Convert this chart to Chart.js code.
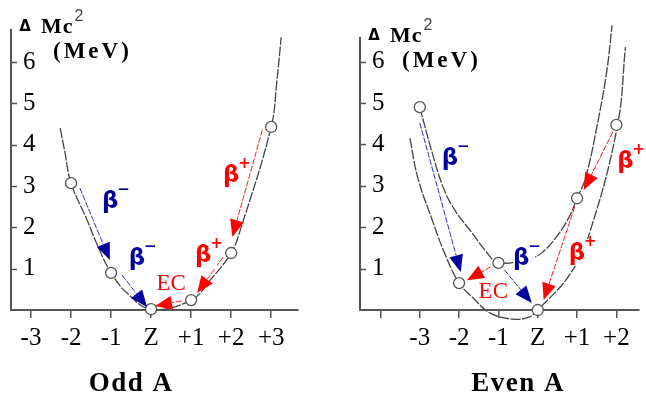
<!DOCTYPE html>
<html>
<head>
<meta charset="utf-8">
<script src="https://cdn.jsdelivr.net/npm/chart.js@4.4.1/dist/chart.umd.min.js"></script>
<style>
  body { margin: 0; background: #fff; }
  #wrap { display: flex; width: 646px; height: 396px; }
  canvas { display: block; }
</style>
</head>
<body>
<div id="wrap">
  <canvas id="oddChart" width="323" height="396"></canvas>
  <canvas id="evenChart" width="323" height="396"></canvas>
</div>
<script>
// tick labels
var yTickValues = [1, 2, 3, 4, 5, 6];
var oddTickValues = [-3, -2, -1, 0, 1, 2, 3];
var oddTickLabels = ['-3', '-2', '-1', 'Z', '+1', '+2', '+3'];
var evenTickValues = [-4, -3, -2, -1, 0, 1, 2];
var evenTickLabels = ['', '-3', '-2', '-1', 'Z', '+1', '+2'];

// Odd A: nuclides on one parabola
var oddNuclideX = [-2, -1, 0, 1, 2, 3];
var oddNuclideY = [3.07, 0.9, 0.02, 0.24, 1.38, 4.43];
var oddCurveX = [-2.27, -2.15, -2, -1.6, -1.32, -1, -0.6, 0, 1, 1.48, 2, 2.23, 3, 3.14, 3.25];
var oddCurveY = [4.4, 3.8, 3.07, 2.18, 1.52, 0.9, 0.41, 0.02, 0.24, 0.73, 1.38, 1.94, 4.43, 5.52, 6.6];
var oddArrowFrom = [[-1.78, 2.95], [-0.73, 0.85], [0.77, 0.22], [2.78, 4.36], [1.8, 1.28]];
var oddArrowTo = [[-1.03, 1.21], [-0.1, 0.07], [0.1, 0.1], [2.03, 1.77], [1.15, 0.41]];
var oddArrowKind = ['minus', 'minus', 'ec', 'plus', 'plus'];
var oddLabelAt = [[-0.97, 2.66], [-0.3, 1.28], [0.5, 0.65], [2.05, 3.29], [1.35, 1.35]];

// Even A: odd-odd (upper) and even-even (lower) parabolas
var evenNuclideX = [-3, -2, -1, 0, 1, 2];
var evenNuclideY = [4.9, 0.65, 1.14, 0, 2.7, 4.47];
var evenUpperX = [-3, -2.7, -2.4, -2.1, -1.7, -1.32, -1, -0.15, 0.1, 0.47, 0.8, 1, 1.22, 1.54, 1.76, 1.89];
var evenUpperY = [4.9, 3.85, 2.95, 2.4, 1.9, 1.42, 1.14, 1.26, 1.38, 1.76, 2.25, 2.7, 3.2, 4.6, 5.8, 6.88];
var evenLowerX = [-3.25, -3.05, -2.7, -2.38, -2, -1.64, -1.22, -0.65, -0.22, 0, 0.84, 1.34, 2.03, 2.23];
var evenLowerY = [4.15, 3.19, 2.22, 1.4, 0.65, 0.29, -0.07, -0.22, -0.17, 0, 0.89, 1.93, 4.47, 6.35];
var evenArrowFrom = [[-3.0, 4.52], [-0.85, 0.97], [-1.2, 1.04], [1.91, 4.3], [0.94, 2.49]];
var evenArrowTo = [[-1.96, 0.92], [-0.15, 0.17], [-1.8, 0.72], [1.17, 2.9], [0.15, 0.24]];
var evenArrowKind = ['minus', 'minus', 'ec', 'plus', 'plus'];
var evenLabelAt = [[-2.18, 3.7], [-0.37, 1.28], [-1.13, 0.47], [2.28, 3.62], [1.05, 1.4]];

var axisColor = '#555';
var curveColor = '#444';
var blue = '#00009c';
var red = '#ff0000';

function toXY(xs, ys) {
  var out = [];
  for (var i = 0; i < xs.length; i++) out.push({x: xs[i], y: ys[i]});
  return out;
}

function drawArrow(ctx, x1, y1, x2, y2, color, shaft) {
  var ang = Math.atan2(y2 - y1, x2 - x1);
  var len = 17, half = 7;
  var bx = x2 - len * Math.cos(ang), by = y2 - len * Math.sin(ang);
  ctx.strokeStyle = shaft;
  ctx.lineWidth = 1;
  ctx.setLineDash([6, 1.5]);
  ctx.beginPath();
  ctx.moveTo(x1, y1);
  ctx.lineTo(bx, by);
  ctx.stroke();
  ctx.setLineDash([]);
  ctx.fillStyle = color;
  ctx.beginPath();
  ctx.moveTo(x2, y2);
  ctx.lineTo(bx + half * Math.sin(ang), by - half * Math.cos(ang));
  ctx.lineTo(bx - half * Math.sin(ang), by + half * Math.cos(ang));
  ctx.closePath();
  ctx.fill();
}

function drawLabel(ctx, kind, px, py) {
  ctx.textBaseline = 'middle';
  if (kind === 'ec') {
    ctx.font = '23px "Liberation Serif"';
    ctx.textAlign = 'center';
    var w = ctx.measureText('EC').width;
    ctx.fillStyle = '#fff';
    ctx.fillRect(px - w / 2 - 1, py - 9, w + 2, 18);
    ctx.fillStyle = red;
    ctx.fillText('EC', px, py + 1);
    return;
  }
  var color = kind === 'minus' ? blue : red;
  ctx.fillStyle = '#fff';
  ctx.fillRect(px - 10, py - 13, 22, 27);
  ctx.fillStyle = color;
  ctx.font = 'bold 23px "DejaVu Sans"';
  ctx.textAlign = 'center';
  ctx.fillText('β', px - 2, py + 2);
  ctx.font = 'bold 15px "DejaVu Sans"';
  ctx.textAlign = 'left';
  ctx.fillText(kind === 'minus' ? '−' : '+', px + 5, py - 10);
}

function makePlugin(setup) {
  return {
    id: 'decayMarks',
    afterDraw: function (chart) {
      var ctx = chart.ctx, xs = chart.scales.x, ys = chart.scales.y, a = chart.chartArea;
      ctx.save();
      // y axis with inward ticks
      ctx.strokeStyle = axisColor;
      ctx.lineWidth = 2;
      ctx.beginPath();
      ctx.moveTo(a.left, ys.getPixelForValue(0));
      ctx.lineTo(a.left, a.top);
      ctx.stroke();
      ctx.lineWidth = 1.5;
      ctx.beginPath();
      for (var i = 0; i < yTickValues.length; i++) {
        var py = Math.round(ys.getPixelForValue(yTickValues[i])) + 0.5;
        ctx.moveTo(a.left, py);
        ctx.lineTo(a.left + 6, py);
      }
      ctx.stroke();

      // decay arrows and their labels
      for (var j = 0; j < setup.from.length; j++) {
        var k = setup.kind[j];
        var col = k === 'minus' ? blue : red;
        var shaft = k === 'minus' ? '#3030c8' : '#ff2020';
        drawArrow(ctx,
          xs.getPixelForValue(setup.from[j][0]), ys.getPixelForValue(setup.from[j][1]),
          xs.getPixelForValue(setup.to[j][0]), ys.getPixelForValue(setup.to[j][1]), col, shaft);
      }
      for (var m = 0; m < setup.labelAt.length; m++) {
        drawLabel(ctx, setup.kind[m], xs.getPixelForValue(setup.labelAt[m][0]), ys.getPixelForValue(setup.labelAt[m][1]));
      }

      // axis caption
      var hx = a.left, hy = a.top;
      ctx.fillStyle = '#000';
      ctx.textBaseline = 'alphabetic';
      ctx.textAlign = 'center';
      ctx.font = 'bold 15px "DejaVu Sans"';
      ctx.fillText('Δ', hx + 14, hy + setup.capDy - 2);
      ctx.textAlign = 'left';
      ctx.font = 'bold 22px "Liberation Serif"';
      ctx.letterSpacing = '1px';
      var mcW = ctx.measureText('Mc').width;
      ctx.fillText('Mc', hx + 30, hy + setup.capDy);
      ctx.letterSpacing = '0px';
      ctx.font = '16px "Liberation Sans"';
      ctx.fillStyle = '#444';
      ctx.fillText('2', hx + 31 + mcW, hy + setup.capDy - 12);
      ctx.fillStyle = '#000';
      ctx.font = 'bold 23px "Liberation Serif"';
      ctx.letterSpacing = '3px';
      ctx.fillText('(MeV)', hx + 42, hy + setup.capDy + 25);

      // panel title
      ctx.font = 'bold 27px "Liberation Serif"';
      ctx.letterSpacing = '1.5px';
      ctx.textAlign = 'center';
      ctx.textBaseline = 'middle';
      ctx.fillText(setup.title, xs.getPixelForValue(-0.5), 384);
      ctx.restore();
    }
  };
}

function makeChart(id, setup) {
  var datasets = [{
    type: 'scatter',
    data: toXY(setup.nucX, setup.nucY),
    pointRadius: 5.5,
    pointBackgroundColor: '#fff',
    pointBorderColor: axisColor,
    pointBorderWidth: 1.3,
    clip: false
  }];
  for (var i = 0; i < setup.curves.length; i++) {
    datasets.push({
      type: 'line',
      data: toXY(setup.curves[i][0], setup.curves[i][1]),
      borderColor: curveColor,
      borderWidth: 1.3,
      borderDash: [10, 1.5],
      pointRadius: 0,
      tension: 0.4,
      fill: false,
      clip: false
    });
  }
  return new Chart(document.getElementById(id), {
    type: 'scatter',
    data: {datasets: datasets},
    options: {
      responsive: false,
      animation: false,
      events: [],
      layout: {padding: setup.padding},
      plugins: {legend: {display: false}, tooltip: {enabled: false}},
      scales: {
        x: {
          type: 'linear',
          min: setup.xMin,
          max: setup.xMax,
          position: {y: 0},
          border: {display: true, color: axisColor, width: 2},
          grid: {drawOnChartArea: false, drawTicks: true, tickLength: 7, color: axisColor, lineWidth: 1.5},
          ticks: {
            stepSize: 1,
            includeBounds: false,
            autoSkip: false,
            maxRotation: 0,
            padding: 6,
            color: '#000',
            font: {family: 'Liberation Serif', size: 25},
            callback: function (v) {
              var i = setup.tickValues.indexOf(v);
              return i < 0 ? '' : setup.tickLabels[i];
            }
          }
        },
        y: {
          type: 'linear',
          min: -0.5,
          max: setup.yMax,
          position: 'left',
          border: {display: false},
          grid: {display: false},
          afterFit: function (s) { s.width = 0; },
          ticks: {
            mirror: true,
            padding: 12,
            stepSize: 1,
            includeBounds: false,
            color: '#000',
            font: {family: 'Liberation Serif', size: 25},
            callback: function (v) { return yTickValues.indexOf(v) >= 0 ? String(v) : ''; }
          }
        }
      }
    },
    plugins: [makePlugin(setup)]
  });
}

makeChart('oddChart', {
  nucX: oddNuclideX, nucY: oddNuclideY,
  curves: [[oddCurveX, oddCurveY]],
  from: oddArrowFrom, to: oddArrowTo, kind: oddArrowKind, labelAt: oddLabelAt,
  tickValues: oddTickValues, tickLabels: oddTickLabels,
  xMin: -3.5, xMax: 3.67, yMax: 6.8,
  padding: {left: 11, right: 25, top: 29, bottom: 65.3},
  capDy: 4, title: 'Odd A'
});

makeChart('evenChart', {
  nucX: evenNuclideX, nucY: evenNuclideY,
  curves: [[evenUpperX, evenUpperY], [evenLowerX, evenLowerY]],
  from: evenArrowFrom, to: evenArrowTo, kind: evenArrowKind, labelAt: evenLabelAt,
  tickValues: evenTickValues, tickLabels: evenTickLabels,
  xMin: -4.52, xMax: 2.58, yMax: 6.6,
  padding: {left: 37, right: 0, top: 36.8, bottom: 65.3},
  capDy: 5, title: 'Even A'
});
</script>
</body>
</html>
